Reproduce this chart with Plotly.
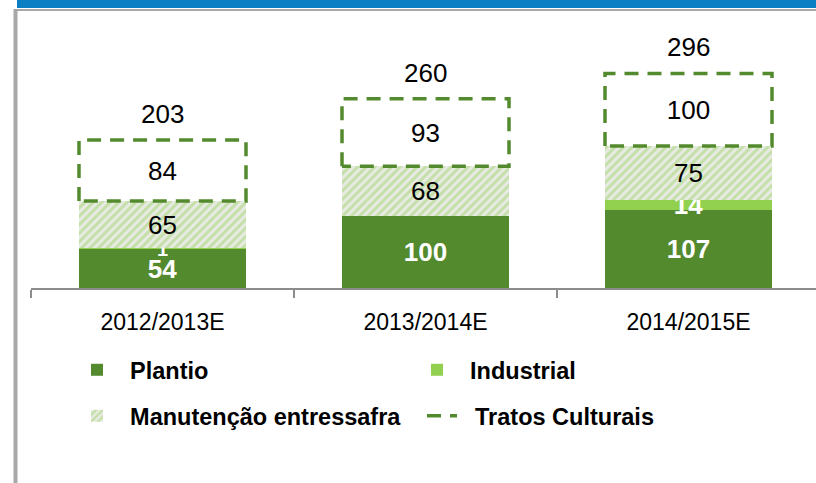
import plotly.graph_objects as go

categories = ["2012/2013E", "2013/2014E", "2014/2015E"]
plantio = [54, 100, 107]
industrial = [1, 0, 14]
manutencao = [65, 68, 75]
tratos = [84, 93, 100]
totals = [203, 260, 296]

FONT = "Liberation Sans, Arial, sans-serif"
DARK = "#548a2e"
LIGHT = "#92d050"
W = 0.635
NB = "\u00a0"

xs = list(range(len(categories)))

fig = go.Figure()

bar_common = dict(x=xs, width=W, textposition="inside", insidetextanchor="middle",
                  textangle=0, hoverinfo="skip", constraintext="none", cliponaxis=False)

fig.add_trace(go.Bar(
    y=plantio, name=NB * 2 + "Plantio", marker=dict(color=DARK, line=dict(width=0)),
    text=[str(v) for v in plantio],
    textfont=dict(family=FONT, size=26, color="white", weight="bold"),
    legend="legend", **bar_common))
fig.add_trace(go.Bar(
    y=industrial, name=NB * 2 + "Industrial", marker=dict(color=LIGHT, line=dict(width=0)),
    text=[str(v) if v else "" for v in industrial],
    textfont=dict(family=FONT, size=[20 if v < 5 else 26 for v in industrial], color="white", weight="bold"),
    legend="legend", **bar_common))
fig.add_trace(go.Bar(
    y=manutencao, name=NB * 2 + "Manutenção entressafra",
    marker=dict(color="#e8ebe4", line=dict(width=0),
                pattern=dict(shape="/", fgcolor="#9fd36a", bgcolor="#e8ebe4", size=6, solidity=0.5)),
    text=[str(v) for v in manutencao],
    textfont=dict(family=FONT, size=26, color="black"),
    legend="legend2", **bar_common))
fig.add_trace(go.Bar(
    y=tratos, name="Tratos Culturais", showlegend=False,
    marker=dict(color="rgba(255,255,255,0)", line=dict(width=0)),
    text=[str(v) for v in tratos],
    textfont=dict(family=FONT, size=26, color="black"),
    **bar_common))

# dashed outlines for Tratos Culturais, computed from data
bx, by = [], []
for i in xs:
    base = plantio[i] + industrial[i] + manutencao[i]
    top = base + tratos[i]
    x0, x1 = i - W / 2, i + W / 2
    bx += [x0, x0, x1, x1, x0, None]
    by += [base, top, top, base, base, None]
fig.add_trace(go.Scatter(
    x=bx, y=by, mode="lines", name=NB * 2 + "Tratos Culturais",
    line=dict(color=DARK, width=3.5, dash="14px,9px"),
    legend="legend2", hoverinfo="skip"))

# totals
for i in xs:
    top = plantio[i] + industrial[i] + manutencao[i] + tratos[i]
    fig.add_annotation(x=i, y=top, text=str(totals[i]), showarrow=False,
                       yanchor="middle", yshift=26,
                       font=dict(family=FONT, size=26, color="black"))

# frame decoration (pixel -> paper)
L, R, T, B = 31, 816, 10, 288
def px(x): return (x - L) / (R - L)
def py(y): return (B - y) / (B - T)
fig.add_shape(type="rect", xref="paper", yref="paper", x0=px(17), x1=px(820), y0=py(-2), y1=py(8),
              fillcolor="#0b7fc3", line=dict(width=0), layer="above")
fig.add_shape(type="line", xref="paper", yref="paper", x0=px(14), x1=px(820), y0=py(10), y1=py(10),
              line=dict(color="#a8a8a8", width=2))
fig.add_shape(type="line", xref="paper", yref="paper", x0=px(15.5), x1=px(15.5), y0=py(9), y1=py(490),
              line=dict(color="#a8a8a8", width=4))

legend_common = dict(orientation="h", xref="container", yref="container", x=77 / 816, xanchor="left",
                     yanchor="middle", entrywidthmode="pixels",
                     font=dict(family=FONT, size=23.5, color="black", weight="bold"),
                     bgcolor="rgba(0,0,0,0)", traceorder="normal")

fig.update_layout(
    width=816, height=483,
    margin=dict(l=L, r=816 - R, t=T, b=483 - B),
    barmode="stack", bargap=0,
    plot_bgcolor="white", paper_bgcolor="white",
    font=dict(family=FONT, color="black"),
    xaxis=dict(range=[-0.5, -0.5 + (R - L) / 263], tickmode="array", tickvals=xs, ticktext=categories,
               ticks="", showgrid=False, zeroline=False,
               showline=True, linecolor="#8c8c8c", linewidth=2,
               tickfont=dict(family=FONT, size=23, color="black"), ticklabelstandoff=12,
               minor=dict(tickmode="array", tickvals=[-0.5, 0.5, 1.5, 2.5], ticks="outside",
                          ticklen=8, tickwidth=2, tickcolor="#8c8c8c", showgrid=False)),
    yaxis=dict(range=[0, (B - T) / 0.725], visible=False, showgrid=False, zeroline=False),
    legend=dict(legend_common, y=1 - 370 / 483, entrywidth=295),
    legend2=dict(legend_common, y=1 - 416 / 483, entrywidth=300),
)

fig.write_html("out.html", config={"displayModeBar": False},
               post_script="document.body.style.margin='0';document.body.style.padding='0';")
